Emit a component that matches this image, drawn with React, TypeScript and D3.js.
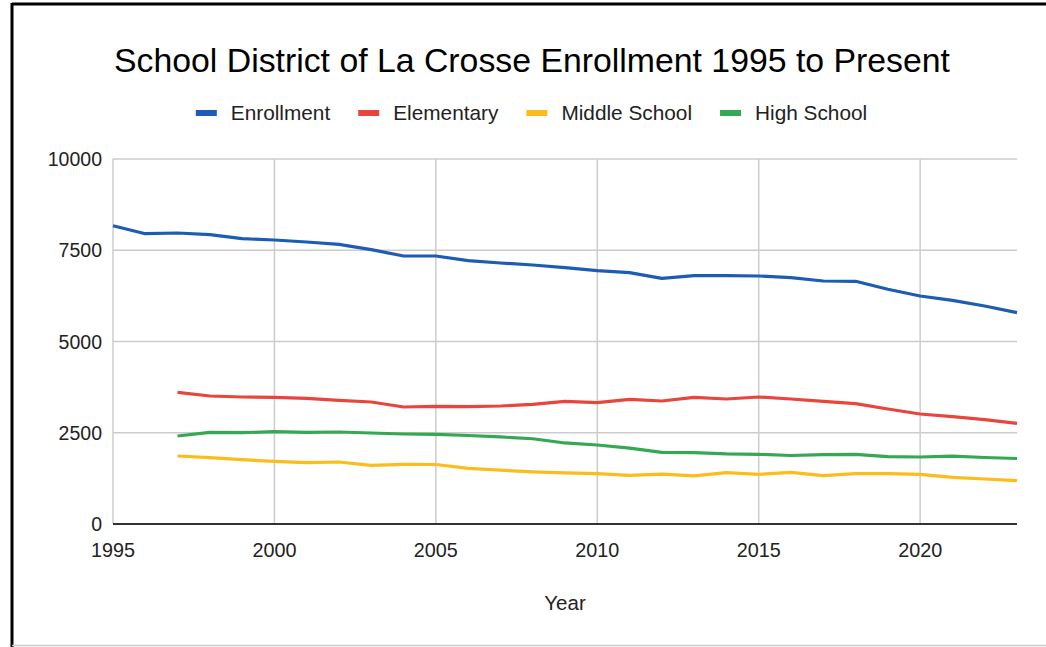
import {useEffect, useRef} from "react";
import * as d3 from "d3"

const years = d3.range(1995, 2024)

const enrollment = [8170, 7953, 7973, 7927, 7817, 7781, 7726, 7663, 7516, 7342, 7342, 7215, 7151, 7096, 7023, 6941, 6886, 6731, 6804, 6804, 6795, 6749, 6658, 6649, 6430, 6247, 6128, 5973, 5790]
const elementary = [null, null, 3608, 3507, 3479, 3470, 3442, 3388, 3342, 3205, 3224, 3215, 3233, 3279, 3361, 3324, 3415, 3370, 3470, 3425, 3479, 3425, 3361, 3297, 3151, 3014, 2941, 2859, 2758]
const middleSchool = [null, null, 1863, 1817, 1762, 1717, 1680, 1699, 1608, 1635, 1630, 1525, 1475, 1430, 1400, 1380, 1333, 1365, 1320, 1410, 1361, 1416, 1324, 1379, 1379, 1361, 1278, 1233, 1187]
const highSchool = [null, null, 2411, 2512, 2502, 2529, 2512, 2520, 2493, 2466, 2457, 2425, 2385, 2335, 2220, 2165, 2078, 1963, 1954, 1922, 1910, 1877, 1900, 1910, 1845, 1836, 1858, 1822, 1795]

const seriesNames = ["Enrollment", "Elementary", "Middle School", "High School"]
const seriesColors = ["#1c5db3", "#e8453c", "#fbbc1c", "#34a853"]
const yTicks = [0, 2500, 5000, 7500, 10000]
const xTicks = [1995, 2000, 2005, 2010, 2015, 2020]

const W = 1046
const H = 647
const FONT = "Arial, 'Liberation Sans', sans-serif"

export default function App() {
  const ref = useRef<SVGSVGElement | null>(null)

  useEffect(() => {
    const svg = d3.select(ref.current)
    svg.selectAll("*").remove()

    const margin = {left: 113, right: 1017, top: 159, bottom: 524}
    const x = d3.scaleLinear().domain([1995, 2023]).range([margin.left, margin.right])
    const y = d3.scaleLinear().domain([0, 10000]).range([margin.bottom, margin.top])

    svg.append("rect").attr("width", W).attr("height", H).attr("fill", "#fff")

    // frame
    svg.append("line").attr("x1", 12).attr("x2", 12).attr("y1", 3).attr("y2", H)
      .attr("stroke", "#000").attr("stroke-width", 3)
    svg.append("line").attr("x1", 12).attr("x2", W).attr("y1", 4).attr("y2", 4)
      .attr("stroke", "#000").attr("stroke-width", 3)
    svg.append("line").attr("x1", 12).attr("x2", W).attr("y1", 645.5).attr("y2", 645.5)
      .attr("stroke", "#ccc").attr("stroke-width", 1.5)

    // title
    svg.append("text")
      .attr("x", 532).attr("y", 72)
      .attr("text-anchor", "middle")
      .style("font-family", FONT).style("font-size", "33.8px").style("fill", "#000")
      .text("School District of La Crosse Enrollment 1995 to Present")

    // legend
    const legend = svg.append("g")
    let cx = 0
    seriesNames.forEach((name, i) => {
      const g = legend.append("g").attr("transform", `translate(${cx},0)`)
      g.append("rect").attr("x", 0).attr("y", 110).attr("width", 21).attr("height", 6)
        .attr("fill", seriesColors[i])
      const t = g.append("text").attr("x", 35).attr("y", 120)
        .style("font-family", FONT).style("font-size", "20.8px").style("fill", "#222")
        .text(name)
      const w = (t.node() as SVGTextElement).getComputedTextLength()
      cx += 35 + w + 28
    })
    const total = cx - 28
    legend.attr("transform", `translate(${531.5 - total / 2},0)`)

    // gridlines
    svg.append("g").selectAll("line").data(yTicks.filter(d => d > 0)).enter().append("line")
      .attr("x1", margin.left).attr("x2", margin.right)
      .attr("y1", d => y(d)).attr("y2", d => y(d))
      .attr("stroke", "#ccc").attr("stroke-width", 1.5)
    svg.append("g").selectAll("line").data(xTicks).enter().append("line")
      .attr("x1", d => x(d)).attr("x2", d => x(d))
      .attr("y1", margin.top).attr("y2", margin.bottom)
      .attr("stroke", "#ccc").attr("stroke-width", 1.5)

    // y labels
    svg.append("g").selectAll("text").data(yTicks).enter().append("text")
      .attr("x", 102).attr("y", d => y(d)).attr("dy", "0.36em")
      .attr("text-anchor", "end")
      .style("font-family", FONT).style("font-size", "19.5px").style("fill", "#222")
      .text(d => String(d))

    // x labels
    svg.append("g").selectAll("text").data(xTicks).enter().append("text")
      .attr("x", d => x(d)).attr("y", 557)
      .attr("text-anchor", "middle")
      .style("font-family", FONT).style("font-size", "19.8px").style("fill", "#222")
      .text(d => String(d))

    svg.append("text")
      .attr("x", (margin.left + margin.right) / 2).attr("y", 610)
      .attr("text-anchor", "middle")
      .style("font-family", FONT).style("font-size", "20.5px").style("fill", "#222")
      .text("Year")

    // lines
    const all = [enrollment, elementary, middleSchool, highSchool]
    const line = d3.line<[number, number | null]>()
      .defined(d => d[1] != null)
      .x(d => x(d[0]))
      .y(d => y(d[1] as number))
    all.forEach((vals, i) => {
      svg.append("path")
        .datum(years.map((yr, j) => [yr, vals[j]] as [number, number | null]))
        .attr("d", line)
        .attr("fill", "none")
        .attr("stroke", seriesColors[i])
        .attr("stroke-width", 3.2)
        .attr("stroke-linejoin", "round")
    })

    // baseline
    svg.append("line").attr("x1", margin.left).attr("x2", margin.right)
      .attr("y1", y(0)).attr("y2", y(0))
      .attr("stroke", "#333").attr("stroke-width", 2)
  }, [])

  return (
    <svg ref={ref} width={W} height={H} style={{position: "absolute", left: 0, top: 0}} />
  )
}
